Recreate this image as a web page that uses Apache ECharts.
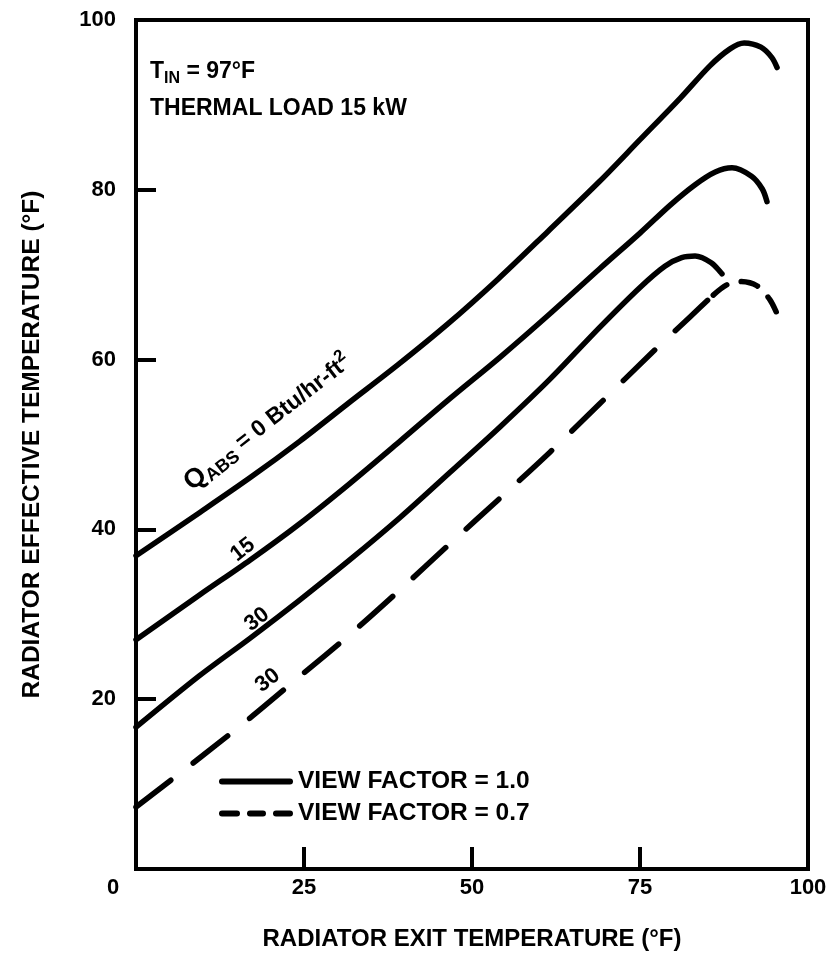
<!DOCTYPE html>
<html>
<head>
<meta charset="utf-8">
<script src="https://cdn.jsdelivr.net/npm/echarts@6.0.0/dist/echarts.min.js"></script>
<style>
html,body{margin:0;padding:0;background:#fff;}
#chart{width:830px;height:956px;}
</style>
</head>
<body>
<div id="chart"></div>
<script>
// axis ticks
var xTicks = [0, 25, 50, 75, 100];
var yTicks = [0, 20, 40, 60, 80, 100];

// view factor 1.0, Q_abs = 0 / 15 / 30 Btu/hr-ft2
var q0 = [[0,36.9],[9.5,42.0],[17.0,46.1],[24.4,50.4],[31.5,54.8],[39.0,59.4],[46.4,64.2],[53.9,69.5],[61.3,75.1],[69.0,81.0],[75.0,85.9],[81.0,90.8],[85.4,94.6],[88.4,96.6],[90.5,97.3],[93.0,96.8],[94.6,95.6],[95.4,94.4]];
var q15 = [[0,27.0],[9.5,32.3],[17.0,36.4],[24.4,40.7],[31.8,45.4],[39.3,50.4],[46.7,55.4],[54.2,60.3],[61.6,65.4],[69.0,70.7],[75.0,74.9],[79.5,78.2],[83.2,80.6],[86.2,82.1],[88.7,82.6],[91.6,81.6],[93.2,80.1],[93.9,78.6]];
var q30 = [[0,16.7],[9.5,22.8],[17.0,27.2],[24.4,31.7],[31.8,36.4],[39.3,41.4],[46.7,46.7],[54.2,52.1],[61.6,57.7],[69.0,63.8],[75.0,68.5],[78.7,71.0],[81.2,72.0],[83.2,72.2],[85.6,71.4],[87.2,70.1]];
// view factor 0.7, Q_abs = 30 (long dashes, then short dashes round the peak)
var q30vf07 = [[0,7.3],[9.5,13.1],[17.0,17.8],[24.4,22.7],[31.8,27.6],[39.3,32.9],[46.7,38.3],[54.2,43.7],[61.6,49.1],[69.0,54.8],[76.5,60.6],[82.4,65.0],[85.9,67.6]];
var q30vf07peak = [[85.9,67.6],[87.9,68.8],[89.9,69.2],[92.4,68.7],[94.3,67.1],[95.4,65.4]];

// curve labels: [x, y, rotate]
var labQ0 = [19.6, 52.6, 38];
var lab15 = [15.9, 37.6, 38];
var lab30 = [18.0, 29.4, 38];
var lab30d = [19.6, 22.2, 38];

var FONT = 'Liberation Sans';
var SOLID = 'VIEW FACTOR = 1.0';
var DASHED = 'VIEW FACTOR = 0.7';

// legend keys: one long pill, three short pills
var ICON_SOLID = 'path://M3,0H71A3,3 0 0 1 71,6H3A3,3 0 0 1 3,0Z';
var ICON_DASHED = 'path://M3,0H18A3,3 0 0 1 18,6H3A3,3 0 0 1 3,0Z' +
  'M31,0H44A3,3 0 0 1 44,6H31A3,3 0 0 1 31,0Z' +
  'M57,0H71A3,3 0 0 1 71,6H57A3,3 0 0 1 57,0Z';

function curveLabel(pos, text, rich) {
  return {
    coord: [pos[0], pos[1]],
    symbolSize: 0,
    label: {
      show: true, position: 'inside', rotate: pos[2],
      formatter: text, color: '#000',
      fontFamily: FONT, fontWeight: 'bold', fontSize: 22,
      rich: rich || {}
    }
  };
}

function curve(name, data, dash, mark) {
  return {
    name: name,
    type: 'line',
    data: data,
    smooth: 0.3,
    symbol: 'none',
    silent: true,
    lineStyle: {
      color: '#000', width: 5.5, cap: 'round', join: 'round',
      type: dash || 'solid'
    },
    itemStyle: { color: '#000' },
    markPoint: mark ? { silent: true, data: [mark] } : undefined,
    z: 3
  };
}

var qRich = {
  q: { fontFamily: FONT, fontWeight: 'bold', fontSize: 27, lineHeight: 32, color: '#000' },
  s: { fontFamily: FONT, fontWeight: 'bold', fontSize: 18, lineHeight: 16, verticalAlign: 'bottom', color: '#000' },
  m: { fontFamily: FONT, fontWeight: 'bold', fontSize: 23, lineHeight: 32, color: '#000' },
  p: { fontFamily: FONT, fontWeight: 'bold', fontSize: 17, lineHeight: 15, verticalAlign: 'top', color: '#000' }
};

var chart = echarts.init(document.getElementById('chart'));

var option = {
  backgroundColor: '#fff',
  animation: false,
  title: [
    {
      text: '{t|T}{s|IN}{t| = 97°F}',
      left: 145, top: 52,
      textStyle: {
        rich: {
          t: { fontFamily: FONT, fontWeight: 'bold', fontSize: 23, lineHeight: 30, color: '#000' },
          s: { fontFamily: FONT, fontWeight: 'bold', fontSize: 16, lineHeight: 14, verticalAlign: 'bottom', color: '#000' }
        }
      }
    },
    {
      text: 'THERMAL LOAD 15 kW',
      left: 145, top: 92,
      textStyle: { fontFamily: FONT, fontWeight: 'bold', fontSize: 23, color: '#000' }
    }
  ],
  legend: {
    orient: 'vertical',
    left: 214, top: 764,
    itemWidth: 74, itemHeight: 6, itemGap: 7,
    selectedMode: false,
    itemStyle: { color: '#000', borderWidth: 0 },
    textStyle: { fontFamily: FONT, fontWeight: 'bold', fontSize: 24.5, color: '#000' },
    data: [
      { name: SOLID, icon: ICON_SOLID },
      { name: DASHED, icon: ICON_DASHED }
    ]
  },
  grid: {
    left: 136, right: 22, top: 20, bottom: 84,
    show: true, borderColor: '#000', borderWidth: 4,
    containLabel: false
  },
  xAxis: {
    type: 'value',
    min: xTicks[0], max: xTicks[xTicks.length - 1], interval: 25,
    name: 'RADIATOR EXIT TEMPERATURE (°F)',
    nameLocation: 'middle', nameGap: 58,
    nameTextStyle: { fontFamily: FONT, fontWeight: 'bold', fontSize: 24, color: '#000' },
    axisLine: { show: false },
    splitLine: { show: false },
    axisTick: { show: true, inside: true, length: 22, lineStyle: { color: '#000', width: 4 } },
    axisLabel: {
      margin: 8,
      fontFamily: FONT, fontWeight: 'bold', fontSize: 22, color: '#000',
      formatter: function (v) { return v === 0 ? '{z|0}' : String(v); },
      rich: { z: { fontFamily: FONT, fontWeight: 'bold', fontSize: 22, color: '#000', padding: [0, 46, 0, 0] } }
    }
  },
  yAxis: {
    type: 'value',
    min: yTicks[0], max: yTicks[yTicks.length - 1], interval: 20,
    name: 'RADIATOR EFFECTIVE TEMPERATURE (°F)',
    nameLocation: 'middle', nameGap: 91,
    nameTextStyle: { fontFamily: FONT, fontWeight: 'bold', fontSize: 24.5, color: '#000' },
    axisLine: { show: false },
    splitLine: { show: false },
    axisTick: { show: true, inside: true, length: 20, lineStyle: { color: '#000', width: 4 } },
    axisLabel: {
      margin: 20,
      fontFamily: FONT, fontWeight: 'bold', fontSize: 22, color: '#000',
      formatter: function (v) { return v === 0 ? '' : String(v); }
    }
  },
  series: [
    curve(SOLID, q0, null, curveLabel(labQ0, '{q|Q}{s|ABS}{m| = 0 Btu/hr-ft}{p|2}', qRich)),
    curve(SOLID, q15, null, curveLabel(lab15, '15')),
    curve(SOLID, q30, null, curveLabel(lab30, '30')),
    curve(DASHED, q30vf07, [44, 28], curveLabel(lab30d, '30')),
    curve(DASHED, q30vf07peak, [17, 15], null)
  ]
};

chart.setOption(option);
</script>
</body>
</html>
